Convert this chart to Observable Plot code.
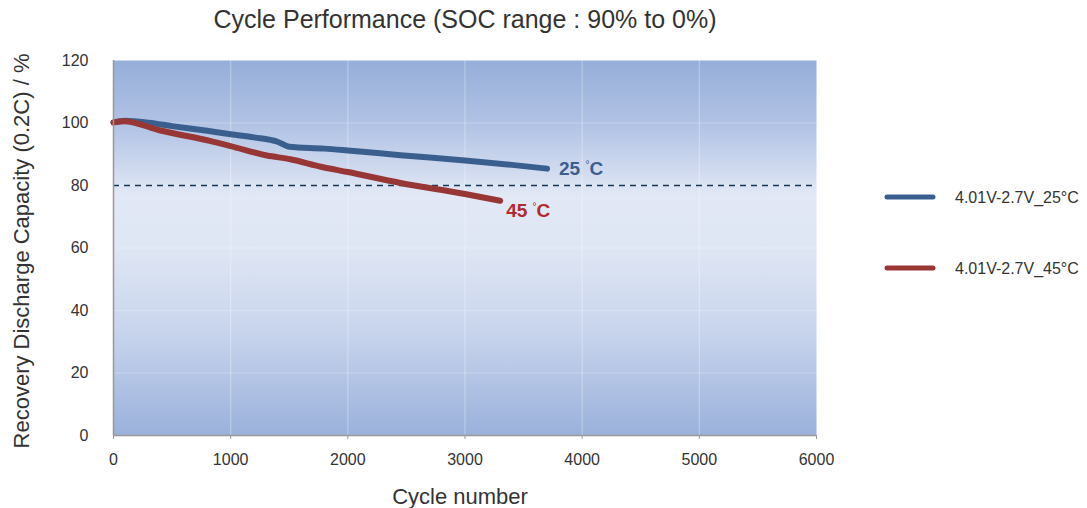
<!DOCTYPE html>
<html>
<head>
<meta charset="utf-8">
<script src="https://cdn.jsdelivr.net/npm/d3@7"></script>
<script src="https://cdn.jsdelivr.net/npm/@observablehq/plot@0.6"></script>
<style>
  html, body { margin: 0; padding: 0; background: #fff; }
  #chart { width: 1087px; height: 508px; }
</style>
</head>
<body>
<div id="chart"></div>
<script>
const seriesNames = ["4.01V-2.7V_25°C", "4.01V-2.7V_45°C"];
const seriesColors = ["#3a5f8f", "#983636"];
const labelColors = ["#3a5f8f", "#b02a2e"];
const endLabels = ["25", "45"];

const cycles25 = [0, 100, 300, 500, 800, 1000, 1200, 1400, 1500, 1800, 2000, 2450, 3000, 3400, 3700];
const cap25    = [100.2, 100.7, 100.1, 99.0, 97.5, 96.4, 95.4, 94.0, 92.4, 91.8, 91.2, 89.7, 88.0, 86.6, 85.4];

const cycles45 = [0, 90, 400, 830, 1000, 1310, 1510, 1770, 2000, 2450, 3000, 3300];
const cap45    = [100.2, 100.6, 97.6, 94.2, 92.6, 89.6, 88.4, 86.0, 84.3, 80.8, 77.3, 75.1];

const xTicks = [0, 1000, 2000, 3000, 4000, 5000, 6000];
const yTicks = [0, 20, 40, 60, 80, 100, 120];
const refLevel = [80];

const data = [
  ...cycles25.map((c, i) => ({cycle: c, cap: cap25[i], series: seriesNames[0]})),
  ...cycles45.map((c, i) => ({cycle: c, cap: cap45[i], series: seriesNames[1]}))
];
const ends = [
  {cycle: cycles25[cycles25.length - 1], cap: cap25[cap25.length - 1], t: endLabels[0], c: labelColors[0], dx: 12, dy: 0},
  {cycle: cycles45[cycles45.length - 1], cap: cap45[cap45.length - 1], t: endLabels[1], c: labelColors[1], dx: 6, dy: 10}
];

const W = 1087, H = 508;
const mL = 113, mR = 271, mT = 60, mB = 73;
const font = "Arial, 'Liberation Sans', sans-serif";

const chart = Plot.plot({
  width: W, height: H,
  marginLeft: mL, marginRight: mR, marginTop: mT, marginBottom: mB,
  style: {fontFamily: font, fontSize: "16px", color: "#333", background: "transparent"},
  x: {domain: [0, 6000], ticks: xTicks, tickFormat: d => String(d), label: null},
  y: {domain: [0, 120], ticks: yTicks, label: null},
  color: {domain: seriesNames, range: seriesColors},
  marks: [
    Plot.frame({fill: "url(#bgGrad)", stroke: null}),
    Plot.gridX(xTicks.slice(1, -1), {stroke: "#ffffff", strokeOpacity: 0.3, strokeWidth: 1.2}),
    Plot.gridY(yTicks.slice(1, -1), {stroke: "#ffffff", strokeOpacity: 0.25, strokeWidth: 1.2}),
    Plot.ruleY(refLevel, {stroke: "#163858", strokeWidth: 1.3, strokeDasharray: "6,5"}),
    Plot.line(data, {x: "cycle", y: "cap", z: "series", stroke: "series", strokeWidth: 6, strokeLinecap: "round", strokeLinejoin: "round", curve: "monotone-x"}),
    Plot.text([ends[0]], {x: "cycle", y: "cap", text: "t", fill: "c", dx: 12, dy: 0, textAnchor: "start", fontWeight: "bold", fontSize: 19}),
    Plot.text([ends[1]], {x: "cycle", y: "cap", text: "t", fill: "c", dx: 6, dy: 10, textAnchor: "start", fontWeight: "bold", fontSize: 19}),
    Plot.axisX({ticks: xTicks, tickFormat: d => String(d), tickSize: 4, tickPadding: 14, fontSize: 16, stroke: "#999", color: "#333"}),
    Plot.axisY({ticks: yTicks, tickSize: 0, tickPadding: 25, fontSize: 16, color: "#333"}),
    Plot.ruleX([0], {stroke: "#999", strokeWidth: 1.5}),
    Plot.ruleY([0], {stroke: "#999", strokeWidth: 1.5})
  ]
});

document.getElementById("chart").appendChild(chart);

const svg = d3.select(chart);
const defs = svg.insert("defs", ":first-child");
const g = defs.append("linearGradient").attr("id", "bgGrad").attr("x1", 0).attr("y1", 0).attr("x2", 0).attr("y2", 1);
[[0, "#95aed9"], [0.18, "#b3c4e5"], [0.36, "#e2e8f5"], [0.5, "#dfe6f4"], [0.72, "#c9d5ed"], [1, "#9ab1db"]]
  .forEach(([o, c]) => g.append("stop").attr("offset", o).attr("stop-color", c));

// degree signs for end labels
svg.selectAll("text").filter(function() { return endLabels.includes(this.textContent); }).each(function() {
  const t = d3.select(this);
  const txt = this.textContent;
  t.text(null);
  t.append("tspan").text(txt + " ");
  t.append("tspan").attr("font-size", 10).attr("dy", -7).attr("font-weight", "normal").text("°");
  t.append("tspan").attr("dy", 7).text("C");
});

svg.append("text").attr("x", 465).attr("y", 28).attr("text-anchor", "middle")
  .attr("font-family", font).attr("font-size", 25).attr("fill", "#333")
  .text("Cycle Performance (SOC range : 90% to 0%)");
svg.append("text").attr("x", 460).attr("y", 504).attr("text-anchor", "middle")
  .attr("font-family", font).attr("font-size", 22).attr("fill", "#333")
  .text("Cycle number");
svg.append("text").attr("transform", "translate(29,251) rotate(-90)").attr("text-anchor", "middle")
  .attr("font-family", font).attr("font-size", 22).attr("fill", "#333")
  .text("Recovery Discharge Capacity (0.2C) / %");

const legY = [197, 268];
seriesNames.forEach((n, i) => {
  svg.append("line").attr("x1", 887).attr("x2", 933).attr("y1", legY[i]).attr("y2", legY[i])
    .attr("stroke", seriesColors[i]).attr("stroke-width", 5).attr("stroke-linecap", "round");
  svg.append("text").attr("x", 955).attr("y", legY[i] + 6).attr("text-anchor", "start")
    .attr("font-family", font).attr("font-size", 16).attr("fill", "#333").text(n);
});
</script>
</body>
</html>
